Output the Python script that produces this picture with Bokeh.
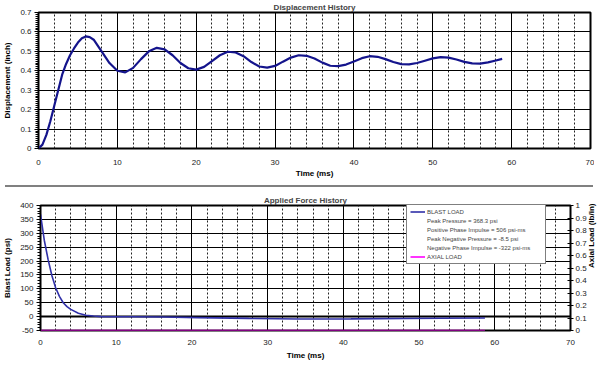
import math
from bokeh.plotting import figure
from bokeh.layouts import column
from bokeh.models import (Range1d, LinearAxis, SingleIntervalTicker, Legend, LegendItem,
                          Div, Span, CustomJSTickFormatter)
from bokeh.embed import file_html
from bokeh.resources import INLINE

# ---------------- data ----------------
disp_t = [0, 0.5, 1, 1.5, 2, 2.5, 3, 3.5, 4, 4.5, 5, 5.5, 6, 6.5, 7, 8, 9, 10, 11, 12, 13, 14, 15,
          16, 17, 18, 19, 20, 21, 22, 23, 24, 25, 26, 27, 28, 29, 30, 31, 32, 33, 34, 35,
          36, 37, 38, 39, 40, 41, 42, 43, 44, 45, 46, 47, 48, 49, 50, 51, 52, 53, 54, 55,
          56, 57, 58, 58.8]
disp_y = [0, 0.02, 0.07, 0.14, 0.22, 0.30, 0.38, 0.435, 0.48, 0.515, 0.545, 0.567, 0.577, 0.573, 0.56,
          0.50, 0.44, 0.40, 0.392, 0.415, 0.46, 0.50, 0.518,
          0.51, 0.48, 0.44, 0.413, 0.406, 0.42, 0.45, 0.48, 0.498, 0.494, 0.475, 0.445, 0.422,
          0.416, 0.425, 0.447, 0.468, 0.48, 0.477, 0.463,
          0.442, 0.426, 0.424, 0.432, 0.448, 0.465, 0.475, 0.472, 0.46, 0.445, 0.434, 0.433,
          0.44, 0.452, 0.464, 0.47, 0.468, 0.458, 0.446, 0.438,
          0.437, 0.443, 0.453, 0.461]

blast_t = [0, 0.5, 1, 1.5, 2, 2.5, 3, 3.5, 4, 5, 6, 7, 8, 12, 16.3, 20.7, 27.5, 34, 41, 48, 53, 58.7]
blast_p = [368.3, 275, 206, 148, 104, 73, 50, 36, 26, 12, 5, 2, 0, -0.5, -1.5, -3.5, -6.5, -8.5,
           -8.3, -7, -6, -5]

axial_t = [0, 58.7]
axial_w = [0, 0]

x_ticks_major = 10
legend_labels = ["BLAST LOAD",
                 "Peak Pressure = 368.3 psi",
                 "Positive Phase Impulse = 506 psi-ms",
                 "Peak Negative Pressure = -8.5 psi",
                 "Negative Phase Impulse = -322 psi-ms",
                 "AXIAL LOAD"]

FONT = "Liberation Sans"
fmt = CustomJSTickFormatter(code="return String(Math.round(tick*100)/100);")


def style_common(p, yint, yminor):
    p.title.align = "center"
    p.title.text_font = FONT
    p.title.text_font_size = "8px"
    p.title.text_font_style = "bold"
    p.title.standoff = 1
    p.title.offset = 0
    p.outline_line_color = "black"
    p.outline_line_width = 2
    p.outline_line_alpha = 1
    p.background_fill_color = "white"
    p.border_fill_color = "white"

    xt = SingleIntervalTicker(interval=x_ticks_major, num_minor_ticks=5)
    p.xaxis.ticker = xt
    p.xgrid.ticker = xt
    p.xgrid.grid_line_color = "black"
    p.xgrid.grid_line_width = 1
    p.xgrid.minor_grid_line_color = "#222222"
    p.xgrid.minor_grid_line_dash = "2 2"
    p.xaxis.axis_line_color = None
    p.xaxis.major_tick_line_color = None
    p.xaxis.minor_tick_line_color = None
    p.xaxis.major_tick_out = 0
    p.xaxis.minor_tick_out = 0
    p.xaxis.major_tick_in = 0
    p.xaxis.minor_tick_in = 0
    p.xaxis.major_label_standoff = 9
    p.xaxis.axis_label_standoff = 3

    yt = SingleIntervalTicker(interval=yint, num_minor_ticks=yminor)
    p.yaxis[0].ticker = yt
    p.ygrid.ticker = yt
    p.ygrid.grid_line_color = "black"
    p.ygrid.grid_line_width = 1
    p.yaxis[0].formatter = fmt
    p.yaxis[0].axis_line_color = "black"
    p.yaxis[0].major_tick_out = 4
    p.yaxis[0].major_tick_in = 0
    p.yaxis[0].minor_tick_out = 3
    p.yaxis[0].minor_tick_in = 0
    p.yaxis[0].major_label_standoff = 3
    p.yaxis[0].axis_label_standoff = 5

    for ax in p.xaxis + p.yaxis:
        ax.major_label_text_font = FONT
        ax.major_label_text_font_size = "8px"
        ax.major_label_text_color = "#222222"
        ax.axis_label_text_font = FONT
        ax.axis_label_text_font_size = "8px"
        ax.axis_label_text_font_style = "bold"
        ax.axis_label_text_color = "black"


# ---------------- top: displacement ----------------
p1 = figure(frame_width=552, frame_height=136, x_range=Range1d(0, 70), y_range=Range1d(0, 0.7000001),
            output_backend="svg", toolbar_location=None, title="Displacement History",
            frame_align=False,
            min_border_left=32, min_border_right=4, min_border_top=7, min_border_bottom=30)
p1.xaxis.axis_label = "Time (ms)"
p1.yaxis.axis_label = "Displacement (inch)"
style_common(p1, 0.1, 10)
p1.xaxis.major_label_standoff = 11
p1.xaxis.axis_label_standoff = 1
p1.line(disp_t, disp_y, line_color="#14148c", line_width=2.2)

# ---------------- bottom: applied force ----------------
p2 = figure(frame_width=530, frame_height=125, x_range=Range1d(0, 70), y_range=Range1d(-50, 400),
            output_backend="svg", toolbar_location=None, title="Applied Force History",
            frame_align=False,
            min_border_left=25, min_border_right=28, min_border_top=13, min_border_bottom=30)
p2.extra_y_ranges = {"axial": Range1d(0, 1)}
right_ax = LinearAxis(y_range_name="axial", axis_label="Axial Load (lb/in)",
                      ticker=SingleIntervalTicker(interval=0.1, num_minor_ticks=0),
                      formatter=fmt)
right_ax.axis_line_color = "black"
right_ax.axis_line_width = 1
right_ax.major_tick_in = 3
right_ax.major_tick_out = 3
right_ax.minor_tick_line_color = None
right_ax.minor_tick_out = 0
right_ax.minor_tick_in = 0
right_ax.major_label_standoff = 2
right_ax.axis_label_standoff = 2
right_ax.axis_label_orientation = math.pi / 2
p2.add_layout(right_ax, "right")
p2.xaxis.axis_label = "Time (ms)"
p2.yaxis[0].axis_label = "Blast Load (psi)"
style_common(p2, 50, 5)

zero = Span(location=0, dimension="width", line_color="black", line_width=2, level="underlay")
p2.add_layout(zero)

r_blast = p2.line(blast_t, blast_p, line_color="#3030a8", line_width=1.6)
r_axial = p2.line(axial_t, axial_w, y_range_name="axial", line_color="#ff00ff", line_width=1.6)
r_blank = p2.line([], [], line_alpha=0)

items = [LegendItem(label=legend_labels[0], renderers=[r_blast])]
for lab in legend_labels[1:5]:
    items.append(LegendItem(label=lab, renderers=[r_blank]))
items.append(LegendItem(label=legend_labels[5], renderers=[r_axial]))
leg = Legend(items=items, location=(366, 66))
leg.label_text_font = FONT
leg.label_text_font_size = "6px"
leg.label_height = 7
leg.glyph_height = 7
leg.glyph_width = 15
leg.label_standoff = 2
leg.spacing = 2
leg.padding = 3
leg.margin = 0
leg.label_width = 115
leg.border_line_color = "black"
leg.border_line_width = 1.5
leg.background_fill_color = "white"
leg.background_fill_alpha = 1
p2.add_layout(leg)

sep = Div(text="", width=588, height=2, styles={"background-color": "#808080"})

layout = column(p1, sep, p2, spacing=0)
open("out.html", "w").write(file_html(layout, INLINE))
